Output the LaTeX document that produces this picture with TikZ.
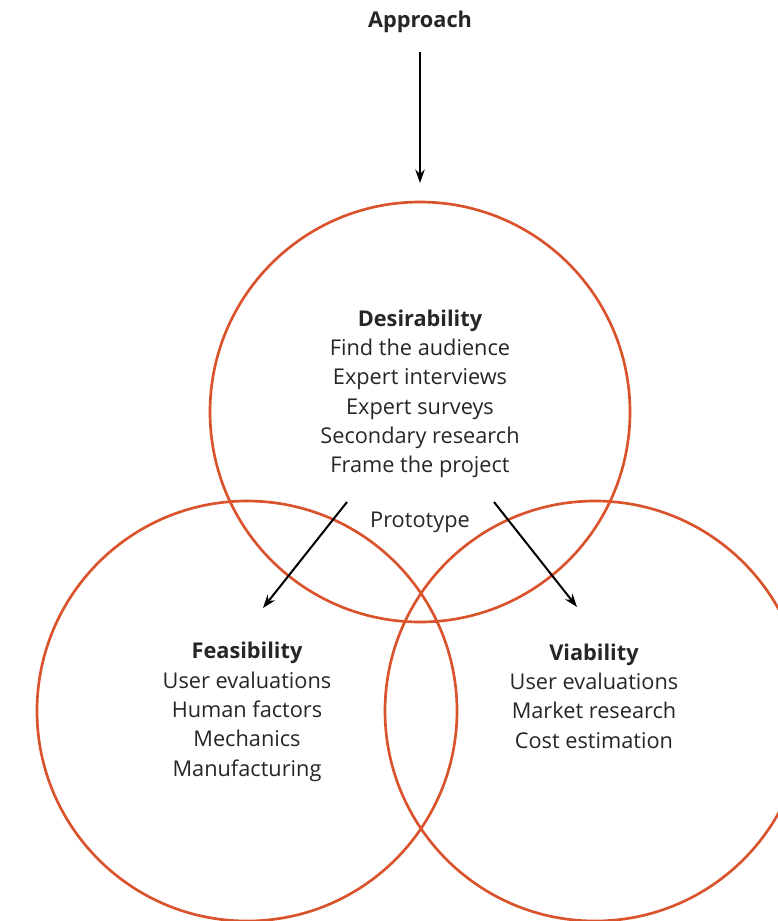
\documentclass[tikz,border=0pt]{standalone}
\usepackage{fontspec}
\setmainfont{Open Sans}
\usetikzlibrary{arrows.meta}
\usetikzlibrary{positioning}
\definecolor{venn}{RGB}{217,83,44}

\begin{document}
\begin{tikzpicture}[x=0.75pt,y=-0.75pt]
	\useasboundingbox (0,0) rectangle (778,921);
	\clip (0,0) rectangle (778,921);
	\begin{scope}[every path/.style={draw=venn, line width=2pt}]
		\draw (420,412) circle (210);
		\draw (247,711) circle (210);
		\draw (595,711) circle (210);
	\end{scope}
	\begin{scope}[every node/.style={align=center, text=black!85, font=\fontsize{16.3}{22}\selectfont}]
		\node (A) at (420,22) {\textbf{Approach}};
		\node (D) at (420,394) {\textbf{Desirability}\\Find the audience\\Expert interviews\\Expert surveys\\Secondary research\\Frame the project};
		\node (P) at (420,522) {Prototype};
		\node (F) at (247,712) {\textbf{Feasibility}\\User evaluations\\Human factors\\Mechanics\\Manufacturing};
		\node (V) at (594,696) {\textbf{Viability}\\User evaluations\\Market research\\Cost estimation};
	\end{scope}
	\coordinate (a1) at (420,52);
	\coordinate (a2) at (420,183);
	\coordinate (l1) at (347,502);
	\coordinate (l2) at (263,608);
	\coordinate (r1) at (494,502);
	\coordinate (r2) at (577,607);
	\begin{scope}[>={Stealth[length=10pt,width=7pt]},
	              every edge/.style={draw=black, line width=1.5pt}]
		\path (a1) edge[->] (a2);
		\path (l1) edge[->] (l2);
		\path (r1) edge[->] (r2);
	\end{scope}
\end{tikzpicture}
\end{document}
